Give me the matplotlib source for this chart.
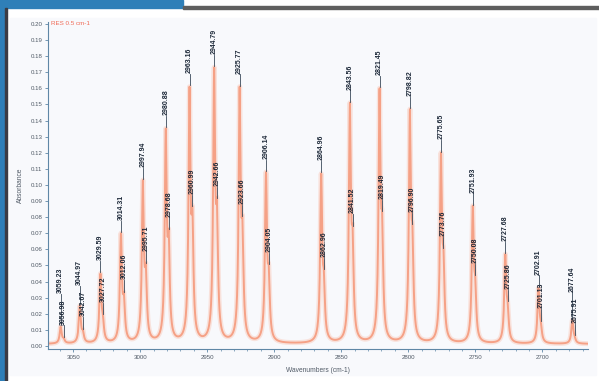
import matplotlib.pyplot as plt
import numpy as np
from matplotlib.patches import Rectangle
from matplotlib.ticker import MultipleLocator, FormatStrFormatter

#%% peak data (H35Cl / H37Cl doublets)
peak_main = [3059.23, 3044.97, 3029.59, 3014.31, 2997.94, 2980.88, 2963.16,
             2944.79, 2925.77, 2906.14, 2864.96, 2843.56, 2821.45, 2798.82,
             2775.65, 2751.93, 2727.68, 2702.91, 2677.64]
height_main = [0.012, 0.025, 0.045, 0.070, 0.103, 0.135, 0.161,
               0.173, 0.161, 0.108, 0.107, 0.151, 0.160, 0.147,
               0.120, 0.087, 0.057, 0.036, 0.016]
peak_iso = [3056.98, 3042.67, 3027.72, 3012.06, 2995.71, 2978.68, 2960.99,
            2942.66, 2923.66, 2904.05, 2862.96, 2841.52, 2819.49, 2796.90,
            2773.76, 2750.08, 2725.86, 2701.13, 2675.91]
height_iso = [0.005, 0.010, 0.019, 0.033, 0.051, 0.072, 0.086,
              0.091, 0.080, 0.050, 0.047, 0.074, 0.083, 0.075,
              0.060, 0.043, 0.027, 0.015, 0.006]
note_text = 'RES 0.5 cm-1'

#%% spectrum built from the peak list (lorentzian line shape)
#   amplitudes solved so the curve passes through the read peak heights
hw = 0.9
base = 0.0012
pos = np.array(peak_main + peak_iso)
target = np.array(height_main + height_iso) - base
M = hw**2 / ((pos[:, None] - pos[None, :])**2 + hw**2)
amp = np.clip(np.linalg.solve(M, target), 0, None)

wn = np.linspace(2664, 3070, 8000)
absb = np.full_like(wn, base)
for p, a in zip(pos, amp):
    absb += a * hw**2 / ((wn - p)**2 + hw**2)

#%% figure
fig = plt.figure(figsize=(5.99, 3.81), dpi=100, facecolor='white')
W, H = 599, 381

bg = fig.add_axes([0, 0, 1, 1], zorder=-10)
bg.set_xlim(0, W); bg.set_ylim(H, 0); bg.axis('off')
bg.add_patch(Rectangle((0, 0), 183, 8, color='#2f7fb8'))
bg.add_patch(Rectangle((0, 0), 5, H, color='#2f7fb8'))
bg.add_patch(Rectangle((183, 6), W - 183, 3, color='#5e5e5e'))
bg.add_patch(Rectangle((5, 8), 2, H - 8, color='#3c3c44'))
bg.add_patch(Rectangle((10, 18), 586, 357, color='#f8f9fc'))

ax = fig.add_axes([48 / W, 32 / H, 540 / W, 327 / H])
ax.set_facecolor('none')
ax.plot(wn, absb, color='#f9c6b6', lw=3.6, alpha=0.45, solid_capstyle='round')
ax.plot(wn, absb, color='#f5a186', lw=1.4)

ax.set_xlim(3068.7, 2666)
ax.set_ylim(-0.0019, 0.2012)

# peak labels with leader ticks
lab_len = 0.0155
tick_len = 0.0070
for pm, pi in zip(peak_main, peak_iso):
    yi = np.interp(pi, wn, absb) + 0.0008
    ax.plot([pi, pi], [yi, yi + tick_len], color='#3a4a5a', lw=0.6)
    ax.text(pi, yi + tick_len + 0.0005, f'{pi:.2f}', rotation=90, ha='center',
            va='bottom', fontsize=5.0, fontweight='bold', color='#1c2838',
            family='Liberation Sans')
    ym = np.interp(pm, wn, absb) + 0.0008
    top = max(ym + tick_len, yi + tick_len + lab_len + 0.004)
    ax.plot([pm, pm], [ym, top], color='#3a4a5a', lw=0.6)
    ax.text(pm, top + 0.0005, f'{pm:.2f}', rotation=90, ha='center',
            va='bottom', fontsize=5.0, fontweight='bold', color='#1c2838',
            family='Liberation Sans')

ax.text(3066.5, 0.2, note_text, fontsize=4.5, color='#f06a55',
        va='center', ha='left', family='Liberation Sans')

for s in ['top', 'right']:
    ax.spines[s].set_visible(False)
for s in ['left', 'bottom']:
    ax.spines[s].set_color('#5f87a6')
    ax.spines[s].set_linewidth(0.8)

ax.xaxis.set_major_locator(MultipleLocator(50))
ax.xaxis.set_minor_locator(MultipleLocator(10))
ax.yaxis.set_major_locator(MultipleLocator(0.01))
ax.yaxis.set_major_formatter(FormatStrFormatter('%.2f'))
ax.tick_params(which='both', colors='#5f87a6', labelcolor='#505a66',
               labelsize=4.4, direction='out')
ax.tick_params(which='major', length=2, width=0.6, pad=2)
ax.tick_params(which='minor', length=1.5, width=0.5)
for t in ax.get_xticklabels() + ax.get_yticklabels():
    t.set_family('Liberation Sans')

ax.set_xlabel('Wavenumbers (cm-1)', fontsize=4.8, color='#505a66',
              family='Liberation Sans', labelpad=5)
ax.set_ylabel('Absorbance', fontsize=4.8, color='#505a66',
              family='Liberation Sans', labelpad=5)

fig.savefig('out.png', dpi=100, facecolor='white')
